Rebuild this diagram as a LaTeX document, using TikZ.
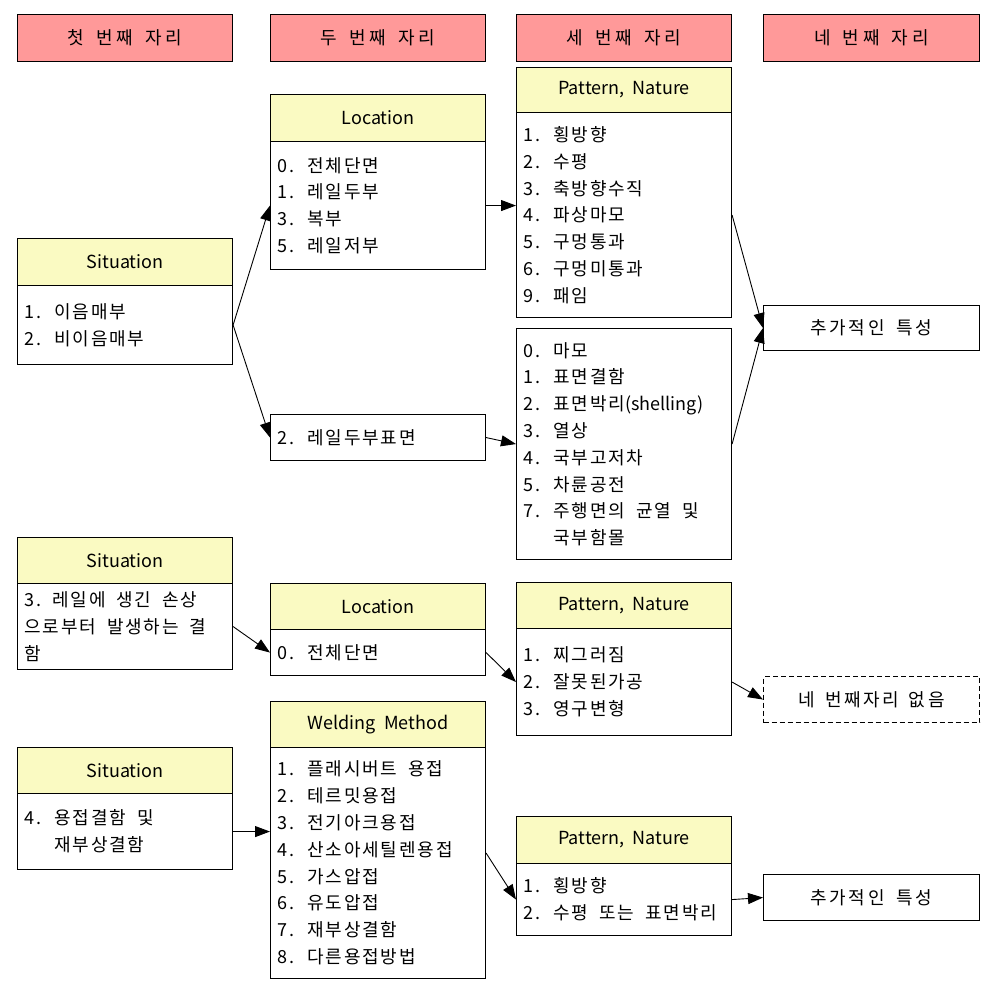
\documentclass[tikz,border=0pt]{standalone}
\usepackage{fontspec}
\setmainfont{Noto Sans CJK KR}
\newfontfamily\kr[LetterSpace=10]{Noto Sans CJK KR}
\newfontfamily\krl{Noto Sans CJK KR}
\newfontfamily\krh[LetterSpace=22]{Noto Sans CJK KR}
\newfontfamily\kre[LetterSpace=14]{Noto Sans CJK KR}
\usetikzlibrary{arrows.meta}
\definecolor{hdrpink}{RGB}{255,153,153}
\definecolor{lblyellow}{RGB}{250,250,194}
\newcommand\bodyfnt{\kr\fontsize{18}{26.8}\selectfont}
\newcommand\itm[2]{\makebox[30pt][l]{#1}#2}
\newcommand\wsp{\hspace{11pt}}
\tikzset{
  box/.style={draw, line width=1.1pt, anchor=north west, inner sep=0pt, minimum width=215pt},
  pinkhdr/.style={box, fill=hdrpink, minimum height=47pt, font=\krh\fontsize{18}{20}\selectfont},
  yhdr/.style={box, fill=lblyellow, font=\krl\fontsize{18}{20}\selectfont},
  bodybox/.style={draw, line width=1.1pt, anchor=north west, inner xsep=7pt, inner ysep=0pt,
    text width=201pt, align=left, font=\bodyfnt},
  endbox/.style={box, minimum width=216pt, minimum height=46pt, font=\kre\fontsize{18}{20}\selectfont},
  arr/.style={-{Triangle[length=15pt,width=11pt]}, line width=0.9pt}
}
\begin{document}
\begin{tikzpicture}[x=1pt,y=-1pt]
\path[use as bounding box, fill=white] (0,0) rectangle (998,989);
% column headers
\node[pinkhdr] (h1) at (17,14) {첫\hspace{12pt}번째\hspace{12pt}자리};
\node[pinkhdr] (h2) at (270,14) {두\hspace{12pt}번째\hspace{12pt}자리};
\node[pinkhdr] (h3) at (516,14) {세\hspace{12pt}번째\hspace{12pt}자리};
\node[pinkhdr, minimum width=216pt] (h4) at (763,14) {네\hspace{12pt}번째\hspace{12pt}자리};
% group 1
\node[yhdr, minimum height=47pt] (sit1h) at (17,238) {Situation};
\node[bodybox, minimum height=79pt] (sit1b) at (17,285) {\itm{1.}{이음매부}\\ \itm{2.}{비이음매부}};
\node[yhdr, minimum height=47pt] (loc1h) at (270,94) {Location};
\node[bodybox, minimum height=128pt] (loc1b) at (270,141) {\itm{0.}{전체단면}\\ \itm{1.}{레일두부}\\ \itm{3.}{복부}\\ \itm{5.}{레일저부}};
\node[bodybox, minimum height=46pt] (rail) at (270,414) {\itm{2.}{레일두부표면}};
\node[yhdr, minimum height=45pt] (pat1h) at (516,67) {Pattern,\hspace{8pt}Nature};
\node[bodybox, minimum height=205pt] (pat1b) at (516,112) {\itm{1.}{횡방향}\\ \itm{2.}{수평}\\ \itm{3.}{축방향수직}\\ \itm{4.}{파상마모}\\ \itm{5.}{구멍통과}\\ \itm{6.}{구멍미통과}\\ \itm{9.}{패임}};
\node[bodybox, minimum height=231pt] (pat1c) at (516,328) {\itm{0.}{마모}\\ \itm{1.}{표면결함}\\ \itm{2.}{표면박리{\krl(shelling)}}\\ \itm{3.}{열상}\\ \itm{4.}{국부고저차}\\ \itm{5.}{차륜공전}\\ \itm{7.}{주행면의\wsp 균열\wsp 및}\\ \itm{}{국부함몰}};
\node[endbox, minimum height=45pt] (add1) at (763,305) {추가적인\hspace{12pt}특성};
% group 2
\node[yhdr, minimum height=46pt] (sit2h) at (17,537) {Situation};
\node[bodybox, minimum height=86pt] (sit2b) at (17,583) {3.\hspace{11pt}레일에\wsp 생긴\wsp 손상\\ 으로부터\wsp 발생하는\wsp 결\\ 함};
\node[yhdr, minimum height=46pt] (loc2h) at (270,583) {Location};
\node[bodybox, minimum height=46pt] (loc2b) at (270,629) {\itm{0.}{전체단면}};
\node[yhdr, minimum height=46pt] (pat2h) at (516,582) {Pattern,\hspace{8pt}Nature};
\node[bodybox, minimum height=107pt] (pat2b) at (516,628) {\itm{1.}{찌그러짐}\\ \itm{2.}{잘못된가공}\\ \itm{3.}{영구변형}};
\node[endbox, dashed, dash pattern=on 5pt off 3pt] (none) at (763,676) {네\hspace{10pt}번째자리\hspace{10pt}없음};
% group 3
\node[yhdr, minimum height=46pt] (sit3h) at (17,747) {Situation};
\node[bodybox, minimum height=76pt] (sit3b) at (17,793) {\itm{4.}{용접결함\wsp 및}\\ \itm{}{재부상결함}};
\node[yhdr, minimum height=46pt] (weldh) at (270,701) {Welding\hspace{8pt}Method};
\node[bodybox, minimum height=231pt] (weldb) at (270,747) {\itm{1.}{플래시버트\wsp 용접}\\ \itm{2.}{테르밋용접}\\ \itm{3.}{전기아크용접}\\ \itm{4.}{산소아세틸렌용접}\\ \itm{5.}{가스압접}\\ \itm{6.}{유도압접}\\ \itm{7.}{재부상결함}\\ \itm{8.}{다른용접방법}};
\node[yhdr, minimum height=47pt] (pat3h) at (516,816) {Pattern,\hspace{8pt}Nature};
\node[bodybox, minimum height=72pt] (pat3b) at (516,863) {\itm{1.}{횡방향}\\ \itm{2.}{수평\wsp 또는\wsp 표면박리}};
\node[endbox] (add2) at (763,874) {추가적인\hspace{12pt}특성};
% connectors
\draw[arr] (sit1b.east) -- (loc1b.west);
\draw[arr] (sit1b.east) -- (rail.west);
\draw[arr] (loc1b.east) -- (loc1b.east -| pat1b.west);
\draw[arr] (rail.east) -- (pat1c.west);
\draw[arr] (pat1b.east) -- (add1.west);
\draw[arr] (pat1c.east) -- (add1.west);
\draw[arr] (sit2b.east) -- (loc2b.west);
\draw[arr] (loc2b.east) -- (pat2b.west);
\draw[arr] (pat2b.east) -- (none.west);
\draw[arr] (sit3b.east) -- (sit3b.east -| weldb.west);
\draw[arr] ([yshift=10pt]weldb.east) -- (pat3b.west);
\draw[arr] (pat3b.east) -- (add2.west);
\end{tikzpicture}
\end{document}
